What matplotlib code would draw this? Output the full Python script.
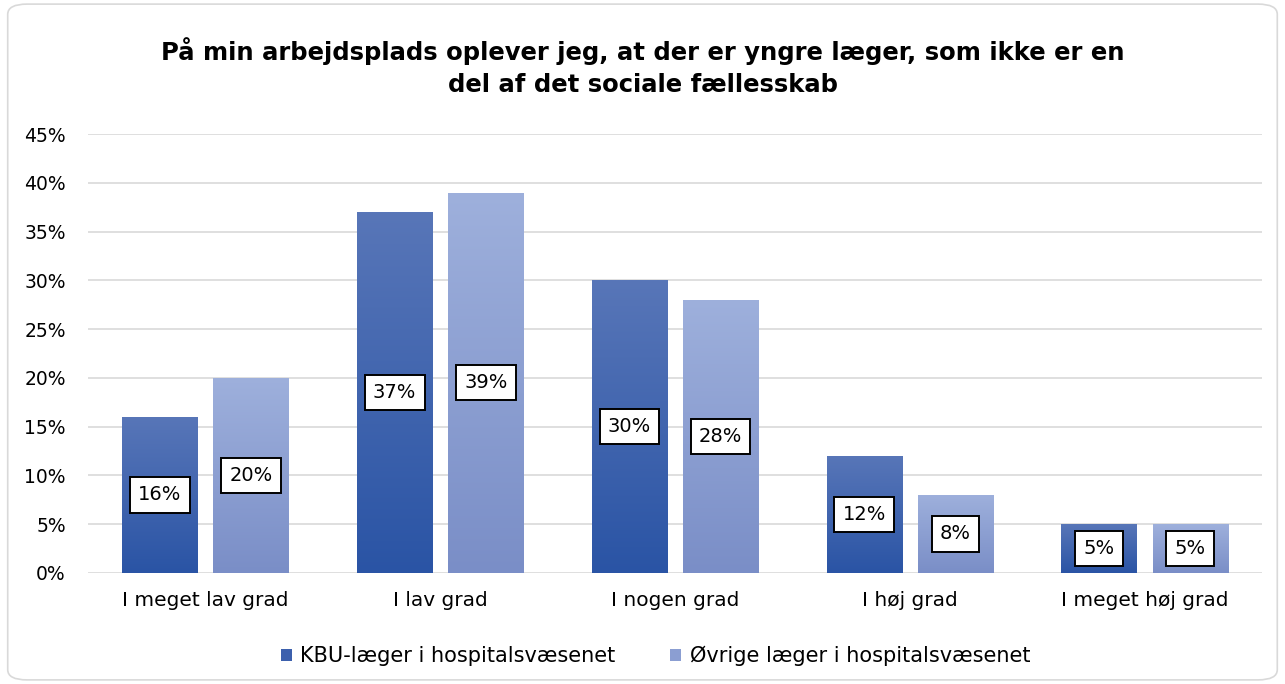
import matplotlib
matplotlib.use("Agg")
import matplotlib.pyplot as plt
import numpy as np
from matplotlib.patches import FancyBboxPatch, Patch
from matplotlib.colors import LinearSegmentedColormap

categories = ["I meget lav grad", "I lav grad", "I nogen grad", "I høj grad", "I meget høj grad"]
kbu = [16, 37, 30, 12, 5]
ovrige = [20, 39, 28, 8, 5]
series_names = ["KBU-læger i hospitalsvæsenet", "Øvrige læger i hospitalsvæsenet"]
title = "På min arbejdsplads oplever jeg, at der er yngre læger, som ikke er en\ndel af det sociale fællesskab"

plt.rcParams['font.family'] = ['DejaVu Sans']

fig = plt.figure(figsize=(12.85, 6.84), dpi=100)
# rounded border
border = FancyBboxPatch((0.006, 0.006), 0.988, 0.988, boxstyle="round,pad=0,rounding_size=0.015",
                        transform=fig.transFigure, facecolor='none', edgecolor='#d9d9d9',
                        linewidth=1.2, zorder=-1)
fig.patches.append(border)

ax = fig.add_axes([88/1285, (684-573)/684, (1262-88)/1285, (573-134)/684])
ax.set_facecolor('none')
x = np.arange(len(categories))
w = 0.32
off = 0.194

cmap_kbu = LinearSegmentedColormap.from_list("k", ["#2a54a5", "#5876b8"])
cmap_ov = LinearSegmentedColormap.from_list("o", ["#7a8ec7", "#9eb0dc"])

def grad_bars(xs, vals, cmap):
    bars = ax.bar(xs, vals, w, color='none', edgecolor='none', zorder=2)
    for b in bars:
        x0, y0 = b.get_x(), b.get_y()
        h = b.get_height()
        grad = np.linspace(0, 1, 256).reshape(-1, 1)
        im = ax.imshow(grad, extent=[x0, x0 + b.get_width(), y0, y0 + h], origin='lower',
                       aspect='auto', cmap=cmap, zorder=2)
        im.set_clip_path(b)
    return bars

b1 = grad_bars(x - off, kbu, cmap_kbu)
b2 = grad_bars(x + off, ovrige, cmap_ov)

for bars, vals in ((b1, kbu), (b2, ovrige)):
    for b, v in zip(bars, vals):
        ax.text(b.get_x() + b.get_width() / 2, v / 2, f"{v}%", ha='center', va='center',
                fontsize=14, zorder=4,
                bbox=dict(boxstyle='square,pad=0.42', facecolor='white', edgecolor='black', linewidth=1.4))

ax.set_xlim(-0.5, len(categories) - 0.5)
ax.set_ylim(0, 45)
ax.set_yticks(range(0, 46, 5))
ax.set_yticklabels([f"{t}%" for t in range(0, 46, 5)], fontsize=13.5)
ax.set_xticks(x)
ax.set_xticklabels(categories, fontsize=14.5)
ax.tick_params(axis='y', length=0, pad=16)
ax.tick_params(axis='x', length=0, pad=13)
ax.grid(axis='y', color='#d9d9d9', linewidth=1.2, zorder=0)
ax.set_axisbelow(True)
for s in ax.spines.values():
    s.set_visible(False)

fig.text(0.5, 0.902, title, ha='center', va='center', fontsize=17.5, fontweight='bold', linespacing=1.45)

handles = [Patch(facecolor="#3c60ad"), Patch(facecolor="#8b9ed2")]
fig.legend(handles, series_names, loc='center', bbox_to_anchor=(0.51, 0.041), ncol=2, frameon=False,
           fontsize=15, handlelength=0.55, handleheight=0.55, handletextpad=0.4, columnspacing=2.6)

fig.savefig("out.png", dpi=100)
